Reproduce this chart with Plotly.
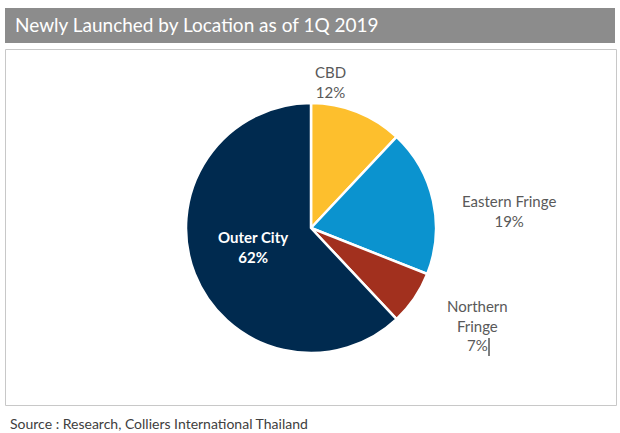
import plotly.graph_objects as go

categories = ["CBD", "Eastern Fringe", "Northern Fringe", "Outer City"]
shares = [12, 19, 7, 62]
colors = ["#FDBF2D", "#0B93CF", "#A2301E", "#002A4F"]
title_text = "Newly Launched by Location as of 1Q 2019"
source_text = "Source : Research, Colliers International Thailand"

W, H = 620, 433
def px(x): return x / W
def py(y): return 1 - y / H

FONT = "Lato, Open Sans, sans-serif"

fig = go.Figure(go.Pie(
    labels=categories, values=shares, sort=False, direction="clockwise", rotation=0,
    marker=dict(colors=colors, line=dict(color="white", width=2.5)),
    textinfo="none", hoverinfo="label+percent", showlegend=False,
    domain=dict(x=[px(186), px(436)], y=[py(353), py(103)]),
))

total = sum(shares)
pct = {c: f"{round(v * 100 / total)}%" for c, v in zip(categories, shares)}
label_pos = {
    "CBD": (330, 82, "CBD"),
    "Eastern Fringe": (509, 211, "Eastern Fringe"),
    "Northern Fringe": (477, 325, "Northern<br>Fringe"),
}
ann = []
for c, (x, y, t) in label_pos.items():
    ann.append(dict(x=px(x), y=py(y), xref="paper", yref="paper", showarrow=False,
                    xanchor="center", yanchor="middle",
                    text=f"{t}<br>{pct[c]}", align="center",
                    font=dict(family=FONT, size=15, color="#595959")))
ann.append(dict(x=px(253), y=py(247), xref="paper", yref="paper", showarrow=False,
                xanchor="center", yanchor="middle",
                text=f"<b>Outer City<br>{pct['Outer City']}</b>", align="center",
                font=dict(family=FONT, size=15, color="white")))
ann.append(dict(x=px(13), y=py(25), xref="paper", yref="paper", showarrow=False,
                xanchor="left", yanchor="middle", text=title_text,
                font=dict(family=FONT, size=19, color="white")))
ann.append(dict(x=px(8), y=py(423), xref="paper", yref="paper", showarrow=False,
                xanchor="left", yanchor="middle", text=source_text,
                font=dict(family=FONT, size=14, color="#404040")))

shapes = [
    dict(type="rect", xref="paper", yref="paper", x0=px(5), x1=px(615), y0=py(43), y1=py(8),
         fillcolor="#8C8C8C", line=dict(width=0), layer="below"),
    dict(type="rect", xref="paper", yref="paper", x0=px(5.5), x1=px(616.5), y0=py(405.5), y1=py(49.5),
         fillcolor="rgba(0,0,0,0)", line=dict(color="#C8C8C8", width=1), layer="below"),
    dict(type="line", xref="paper", yref="paper", x0=px(489), x1=px(489), y0=py(356), y1=py(338),
         line=dict(color="#000000", width=1)),
]

fig.update_layout(width=W, height=H, margin=dict(l=0, r=0, t=0, b=0),
                  paper_bgcolor="white", plot_bgcolor="white",
                  annotations=ann, shapes=shapes)
fig.write_html("out.html", config={"displayModeBar": False},
               post_script="document.body.style.margin='0';document.body.style.padding='0';")
